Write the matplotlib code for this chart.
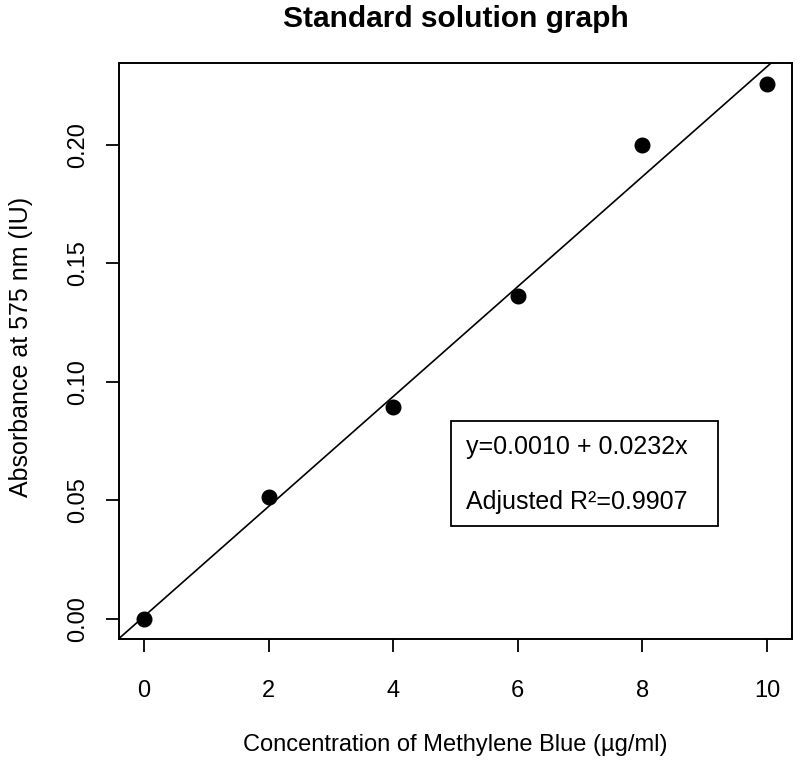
import matplotlib
matplotlib.use("Agg")
import matplotlib.pyplot as plt
from matplotlib.patches import Rectangle
import numpy as np

plt.rcParams['font.family'] = ['Liberation Sans', 'DejaVu Sans']

concentration = [0, 2, 4, 6, 8, 10]
absorbance = [0.000, 0.0515, 0.0895, 0.136, 0.200, 0.2255]
intercept = 0.0010
slope = 0.0232
adj_r2 = 0.9907
x_ticks = [0, 2, 4, 6, 8, 10]
y_ticks = [0.00, 0.05, 0.10, 0.15, 0.20]
y_tick_labels = ["0.00", "0.05", "0.10", "0.15", "0.20"]

W, H = 800, 766
fig = plt.figure(figsize=(W/100, H/100), dpi=100)
ax = fig.add_axes([119/W, 1-639/H, (792-119)/W, (639-63)/H])

ax.plot(concentration, absorbance, 'o', color='black', markersize=10.5, zorder=3)

xmin, xmax = -0.4, 10.4
ymin, ymax = -0.0085, 0.2345
xx = np.array([xmin, xmax])
ax.plot(xx, intercept + slope * xx, color='black', linewidth=1.2)

ax.set_xlim(xmin, xmax)
ax.set_ylim(ymin, ymax)
ax.set_xticks(x_ticks)
ax.set_xticklabels([str(v) for v in x_ticks], fontsize=17)
ax.set_yticks(y_ticks)
ax.set_yticklabels(y_tick_labels, fontsize=17, rotation=90, va='center')
ax.tick_params(axis='both', direction='out', length=9.5, width=1.3)
ax.tick_params(axis='x', pad=20)
ax.tick_params(axis='y', pad=12)
for s in ax.spines.values():
    s.set_linewidth(1.4)

fig.text(455.5/W, 1-19/H, "Standard solution graph", fontsize=21.5, fontweight='bold',
         ha='center', va='center')
ax.set_xlabel("Concentration of Methylene Blue (\u00b5g/ml)", fontsize=17)
ax.xaxis.label.set_va('center')
ax.xaxis.set_label_coords(455.5/W, 1-745/H, transform=fig.transFigure)
ax.set_ylabel("Absorbance at 575 nm (IU)", fontsize=18)
ax.yaxis.label.set_va('center')
ax.yaxis.set_label_coords(21/W, 1-347/H, transform=fig.transFigure)

# legend box
bx0, by0 = 451/W, 1-526/H
bw, bh = (718-451)/W, (526-421)/H
fig.patches.append(Rectangle((bx0, by0), bw, bh, transform=fig.transFigure,
                             fill=False, edgecolor='black', linewidth=1.3))
fig.text(466/W, 1-447/H, "y=%.4f + %.4fx" % (intercept, slope), fontsize=18, va='center', ha='left')
fig.text(466/W, 1-502/H, "Adjusted R\u00b2=%.4f" % adj_r2, fontsize=18, va='center', ha='left')

fig.savefig("out.png", dpi=100)
